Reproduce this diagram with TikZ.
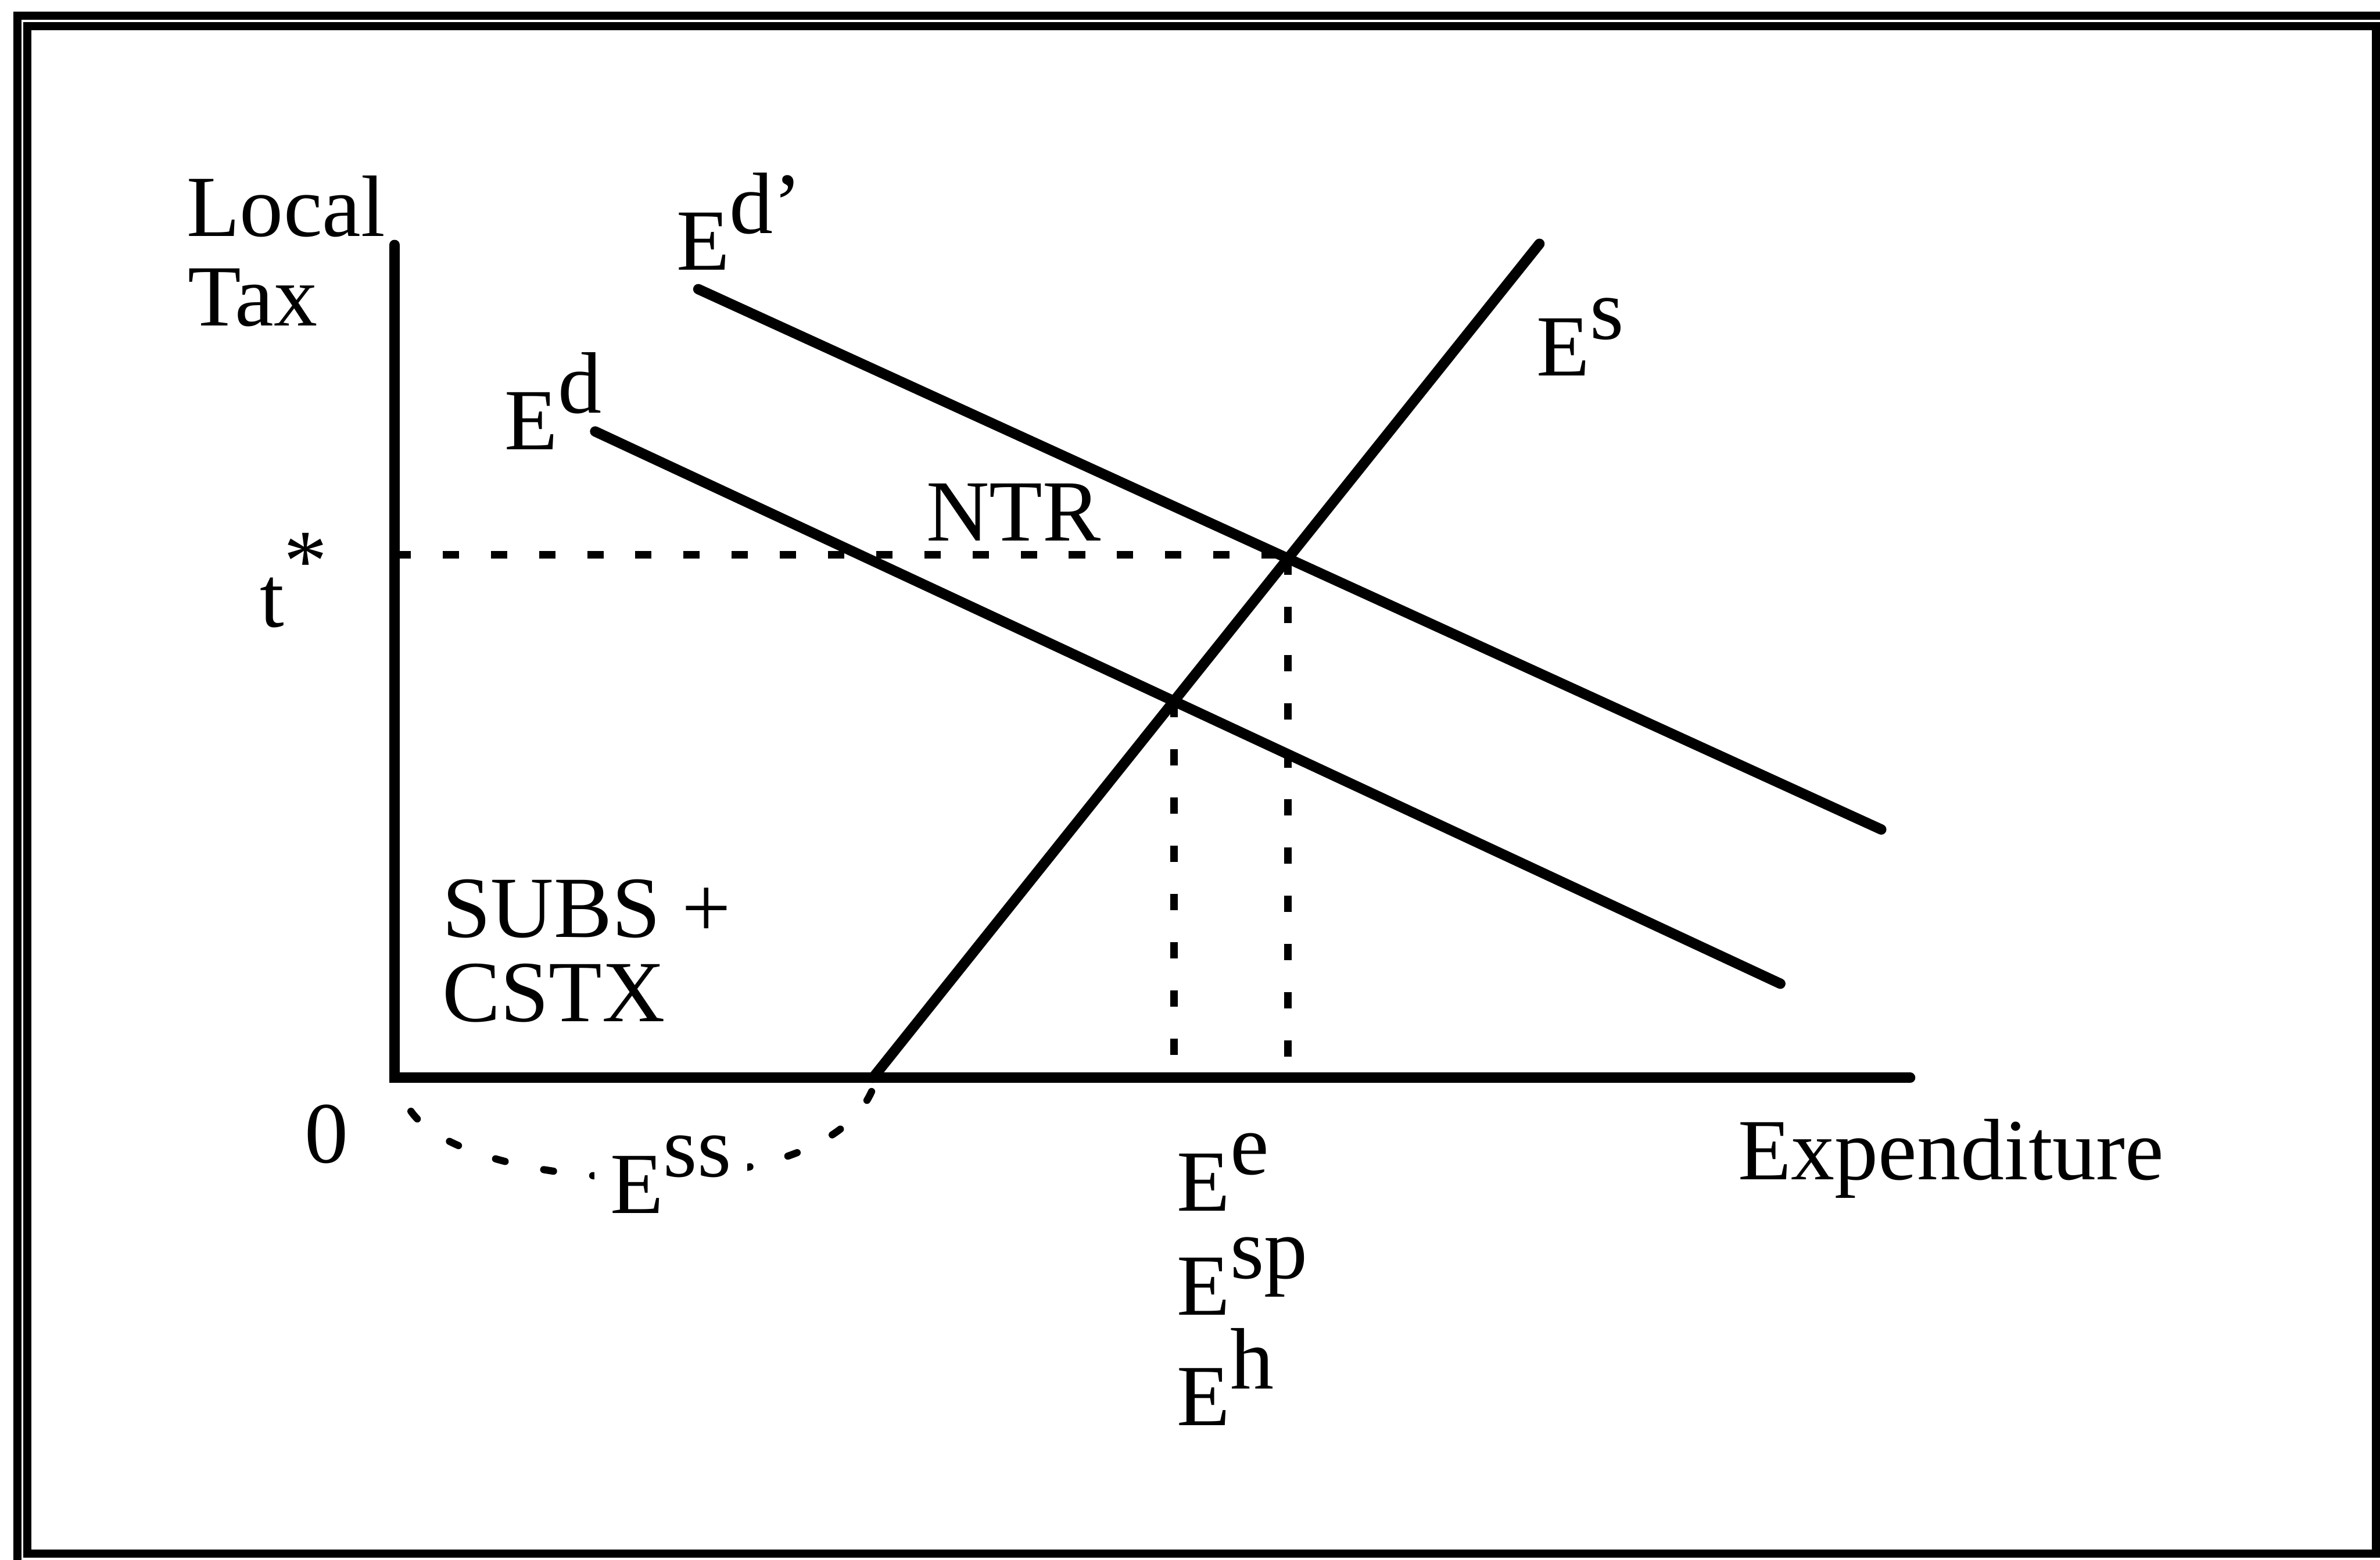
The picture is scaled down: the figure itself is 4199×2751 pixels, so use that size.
\documentclass[tikz,border=0pt]{standalone}
\usepackage{fontspec}
\setmainfont{Liberation Serif}
\usetikzlibrary{intersections}
\newcommand{\tsup}[1]{\raisebox{0.42em}{#1}}

\begin{document}
\begin{tikzpicture}[
  x=0.005cm, y=0.005cm,
  every node/.style={font=\fontsize{21.9}{26}\selectfont, inner sep=0pt, anchor=base west},
  frame/.style={line width=2pt},
  curve/.style={line width=2.6pt, line cap=round},
  guide/.style={line width=1.9pt, dash pattern=on 4.1pt off 8pt},
  subsidy/.style={line width=1.8pt, line cap=round, dash pattern=on 2.5pt off 9.9pt}
]
\useasboundingbox (0,0) rectangle (4199,2751);

% Frame
\draw[frame] (31,2723) rectangle (4215,-14);
\draw[frame] (48,2705) rectangle (4192,11);

% Axes
\coordinate (O) at (696,850);
\coordinate (ytop) at (696,2319);
\coordinate (xend) at (3370,850);
\draw[curve] (ytop) -- (O) -- (xend);

% Demand and supply
\coordinate (dpA) at (1232,2241);
\coordinate (dpB) at (3319,1288);
\coordinate (dA) at (1050,1990);
\coordinate (dB) at (3141,1016);
\coordinate (sA) at (1540,850);
\coordinate (sB) at (2716,2321);
\draw[curve, name path=dprime] (dpA) -- (dpB);
\draw[curve, name path=demand] (dA) -- (dB);
\draw[curve, name path=supply] (sA) -- (sB);
\path[name intersections={of=dprime and supply, by=hi}];
\path[name intersections={of=demand and supply, by=lo}];

% Guides
\draw[guide] ([yshift=1pt]O |- hi) -- ([yshift=1pt]hi);
\draw[guide] (hi) -- (hi |- O);
\draw[guide] (lo) -- (lo |- O);

% Subsidy segment
\draw[subsidy] (725,791) .. controls (830,641) and (1480,611) .. (1545,846);

% Labels
\node (local) at (328,2334) {Local};
\node (tax) at (330,2176) {Tax};
\node (tstar) at (457,1645) {t\tsup{*}};
\node (zero) at (536,700) {0};
\node (subs) at (779,1098) {SUBS +};
\node (cstx) at (779,949) {CSTX};
\node[fill=white, inner xsep=4pt] (ess) at (1047,611) {E\tsup{ss}};
\node (ntr) at (1633,1797) {NTR};
\node (edp) at (1192,2275) {E\tsup{d'}};
\node (ed) at (889,1958) {E\tsup{d}};
\node (es) at (2710,2088) {E\tsup{s}};
\node (expend) at (3065,670) {Expenditure};
\node (ee) at (2075,615) {E\tsup{e}};
\node (esp) at (2075,432) {E\tsup{sp}};
\node (eh) at (2075,237) {E\tsup{h}};

\end{tikzpicture}
\end{document}
